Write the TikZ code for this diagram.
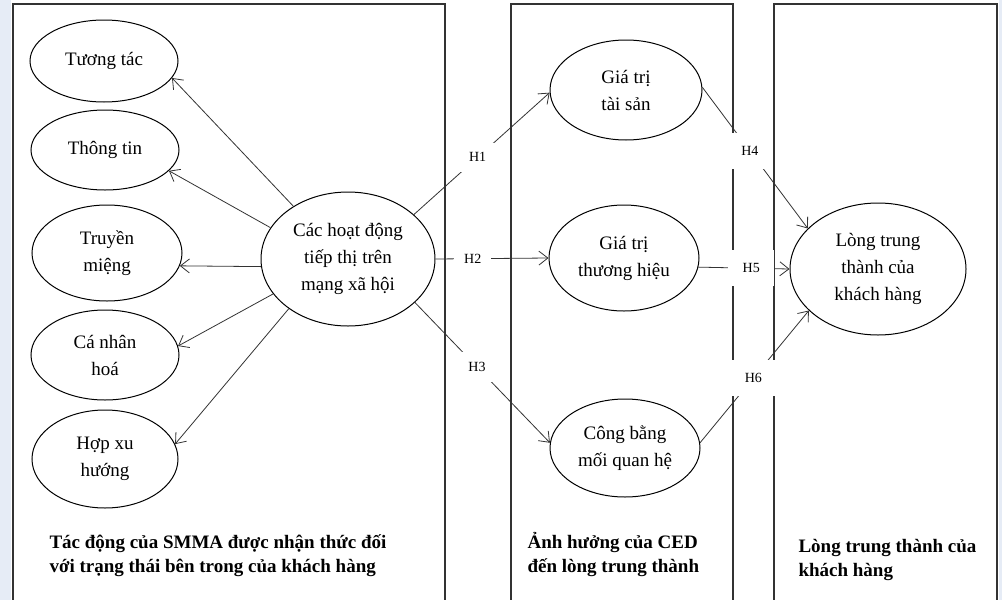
\documentclass[tikz,border=0pt]{standalone}
\usepackage{fontspec}
\setmainfont{Liberation Serif}
\usepackage{tikz}
\usetikzlibrary{shapes.geometric, arrows.meta}
\definecolor{bgblue}{RGB}{230,236,246}

\begin{document}
\begin{tikzpicture}[x=1pt, y=-1pt,
    panel/.style={draw=black!80, line width=1.6pt},
    construct/.style={draw, ellipse, line width=1pt, inner sep=0pt, align=center,
      font=\fontsize{19}{27}\selectfont},
    link/.style={draw=black!80, line width=0.8pt, -{Straight Barb[length=9pt, width=14pt]}},
    hyp/.style={fill=white, inner xsep=10pt, inner ysep=10pt, font=\fontsize{14}{14}\selectfont},
    hypwide/.style={hyp, minimum width=46pt, minimum height=36pt},
    caption/.style={align=left, anchor=west, font=\bfseries\fontsize{19}{24}\selectfont}]
      \useasboundingbox (0,0) rectangle (1002,600);
      \fill [bgblue] (0,0) rectangle (1002,600);
      \fill [white] (11,0) rectangle (999,600);
      \draw [panel] (13,4) rectangle (445,612);
      \draw [panel] (511,4) rectangle (733,612);
      \draw [panel] (774,4) rectangle (997,612);
      \node [caption] (capsmma) at (46,556) {Tác động của SMMA được nhận thức đối\\với trạng thái bên trong của khách hàng};
      \node [caption] (capced) at (524,554) {Ảnh hưởng của CED\\đến lòng trung thành};
      \node [caption] (caployal) at (795,560) {Lòng trung thành của\\khách hàng};
      \node [construct, minimum width=148, minimum height=82] (tuong) at (104,61) {Tương tác};
      \node [construct, minimum width=148, minimum height=80] (thong) at (105,150) {Thông tin};
      \node [construct, minimum width=150, minimum height=96] (truyen) at (107,253) {Truyền\\miệng};
      \node [construct, minimum width=148, minimum height=90] (canhan) at (105,355) {Cá nhân\\hoá};
      \node [construct, minimum width=146, minimum height=98] (hop) at (105,459) {Hợp xu\\hướng};
      \node [construct, minimum width=174, minimum height=134] (central) at (348,259) {Các hoạt động\\tiếp thị trên\\mạng xã hội};
      \node [construct, minimum width=152, minimum height=100] (taisan) at (626,90) {Giá trị\\tài sản};
      \node [construct, minimum width=150, minimum height=106] (thuonghieu) at (624,258) {Giá trị\\thương hiệu};
      \node [construct, minimum width=150, minimum height=98] (congbang) at (625,448) {Công bằng\\mối quan hệ};
      \node [construct, minimum width=176, minimum height=132] (long) at (878,269) {Lòng trung\\thành của\\khách hàng};
      \draw [link] (central.136) -- (tuong.-14);
      \draw [link] (central.158) -- (thong.-18);
      \draw [link] (central.185) -- (truyen.-10);
      \draw [link] (central.205) -- (canhan.7);
      \draw [link] (central.220) -- (hop.12);
      \draw [link] (central.34) -- node [hyp, pos=0.47] (h1) {H1} (taisan.182);
      \draw [link] (central.east) -- node [hyp, pos=0.33] (h2) {H2} (thuonghieu.west);
      \draw [link] (central.-33) -- node [hyp, pos=0.46] (h3) {H3} (congbang.176);
      \draw [link] (taisan.2) -- node [hypwide, pos=0.45] (h4) {H4} (long.150);
      \draw [link] (thuonghieu.-7) -- node [hypwide, pos=0.58] (h5) {H5} (long.west);
      \draw [link] (congbang.4) -- node [hypwide, pos=0.49] (h6) {H6} (long.211);
    \end{tikzpicture}
\end{document}
